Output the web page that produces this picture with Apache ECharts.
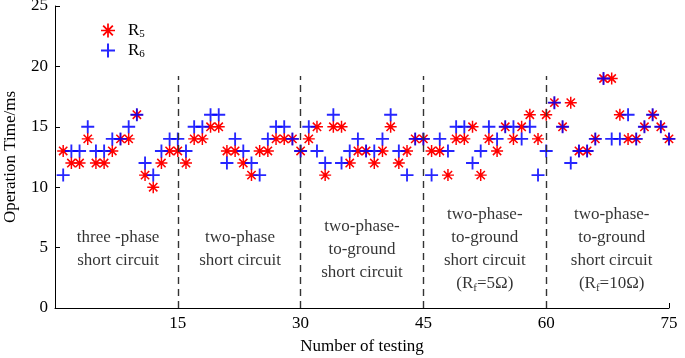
<!DOCTYPE html>
<html><head><meta charset="utf-8">
<script src="https://cdn.jsdelivr.net/npm/echarts@6/dist/echarts.min.js"></script>
<style>html,body{margin:0;padding:0;background:#fff}#c{width:685px;height:358px}</style>
</head><body><div id="c"></div>
<script>
const testNo = Array.from({length:75},(_,k)=>k+1);
const r5 = [13,12,12,14,12,12,13,14,14,16,11,10,12,13,13,
            12,14,14,15,15,13,13,12,11,13,13,14,14,14,13,
            14,15,11,15,15,12,13,13,12,13,15,12,13,14,14,
            13,13,11,14,14,15,11,14,13,15,14,15,16,14,16,
            17,15,17,13,13,14,19,19,16,14,14,15,16,15,14];
const r6 = [11,13,13,15,13,13,14,14,15,16,12,11,13,14,14,
            13,15,15,16,16,12,14,13,12,11,14,15,15,14,13,
            15,13,12,16,12,13,14,13,13,14,16,13,11,14,14,
            11,14,13,15,15,12,13,15,14,15,15,14,15,11,13,
            17,15,12,13,13,14,19,14,14,16,14,15,16,15,14];
const xTicks = [0,15,30,45,60,75];
const yTicks = [0,5,10,15,20,25];
const dividers = [15,30,45,60];
const segCenters = [7.7,22.6,37.5,52.5,68];
const segTexts = [
  "three -phase\nshort circuit",
  "two-phase\nshort circuit",
  "two-phase-\nto-ground\nshort circuit",
  "two-phase-\nto-ground\nshort circuit\n(R{s|f}=5Ω)",
  "two-phase-\nto-ground\nshort circuit\n(R{s|f}=10Ω)"
];

const PLUS = 'path://M-1,-7 L1,-7 L1,7 L-1,7 Z M-7,-1 L7,-1 L7,1 L-7,1 Z';
const STAR = 'path://M-0.8,-6.5 L0.8,-6.5 L0.8,6.5 L-0.8,6.5 Z M-6.5,-0.8 L6.5,-0.8 L6.5,0.8 L-6.5,0.8 Z ' +
  'M-5.1,-3.9 L-3.9,-5.1 L5.1,3.9 L3.9,5.1 Z M-5.1,3.9 L3.9,-5.1 L5.1,-3.9 L-3.9,5.1 Z';
const FONT = 'Liberation Serif';

const chart = echarts.init(document.getElementById('c'));
chart.setOption({
  animation:false,
  backgroundColor:'#fff',
  textStyle:{fontFamily:FONT,color:'#000'},
  grid:{left:55,right:16,top:6,bottom:50,containLabel:false,outerBoundsMode:'none'},
  legend:{
    data:['R5','R6'], orient:'vertical', left:96, top:17, itemGap:2,
    itemWidth:14, itemHeight:14,
    formatter:n=>'{r|R}{s|'+n.slice(1)+'}',
    textStyle:{fontFamily:FONT,color:'#000',padding:[0,0,0,8],
      rich:{r:{fontFamily:FONT,fontSize:17,color:'#000'},
            s:{fontFamily:FONT,fontSize:11,color:'#000',padding:[8,0,0,0]}}}
  },
  xAxis:{type:'value',min:xTicks[0],max:xTicks[xTicks.length-1],interval:15,
    name:'Number of testing',nameLocation:'middle',nameGap:30,
    nameTextStyle:{fontFamily:FONT,fontSize:17,color:'#000'},
    axisLine:{onZero:false,lineStyle:{color:'#000',width:1}},
    axisTick:{inside:true,length:5,lineStyle:{color:'#000'}},
    axisLabel:{fontFamily:FONT,fontSize:17,color:'#000',margin:7,formatter:v=>v===0?'':String(v)},
    splitLine:{show:false}},
  yAxis:{type:'value',min:yTicks[0],max:yTicks[yTicks.length-1],interval:5,
    name:'Operation Time/ms',nameLocation:'middle',nameGap:36,
    nameTextStyle:{fontFamily:FONT,fontSize:17,color:'#000'},
    axisLine:{show:true,lineStyle:{color:'#000',width:1}},
    axisTick:{show:true,inside:true,length:5,lineStyle:{color:'#000'}},
    axisLabel:{fontFamily:FONT,fontSize:17,color:'#000',margin:7},
    splitLine:{show:false}},
  series:[
    {name:'R5',type:'scatter',symbol:STAR,symbolSize:12,
     itemStyle:{color:'#ff0000',opacity:1},
     data:testNo.map((x,i)=>[x,r5[i]]),z:2,
     markLine:{silent:true,symbol:'none',label:{show:false},
       lineStyle:{color:'#333',width:1.4,type:[7,5]},
       data:dividers.map(d=>[{coord:[d,0]},{coord:[d,19.2]}])}},
    {name:'R6',type:'scatter',symbol:PLUS,symbolSize:13,
     itemStyle:{color:'#0000ff',opacity:0.85},
     data:testNo.map((x,i)=>[x,r6[i]]),z:3},
    {name:'labels',type:'scatter',symbolSize:0,silent:true,
     data:segCenters.map((x,i)=>[x,4.85,i]),
     label:{show:true,position:'inside',align:'center',verticalAlign:'middle',
       fontFamily:FONT,fontSize:17,color:'#000',lineHeight:23,
       formatter:p=>segTexts[p.data[2]],
       rich:{s:{fontFamily:FONT,fontSize:11,color:'#000',padding:[8,0,0,0],lineHeight:23}}}}
  ]
});
</script></body></html>
